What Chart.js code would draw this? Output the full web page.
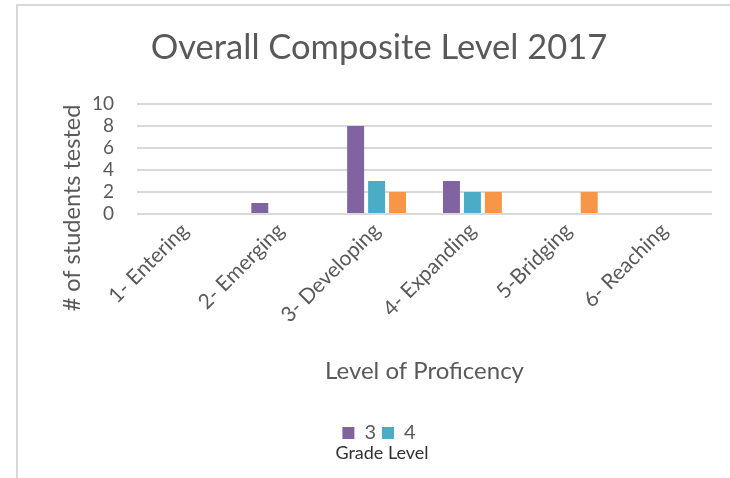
<!DOCTYPE html>
<html>
<head>
<meta charset="utf-8">
<script src="https://cdn.jsdelivr.net/npm/chart.js@4.4.1/dist/chart.umd.min.js"></script>
<style>
  html, body { margin: 0; padding: 0; background: #ffffff; }
  #wrap { position: relative; width: 730px; height: 478px; }
</style>
</head>
<body>
<div id="wrap"><canvas id="c" width="730" height="478"></canvas></div>
<script>
const categories = ["1- Entering", "2- Emerging", "3- Developing", "4- Expanding", "5-Bridging", "6- Reaching"];
const seriesNames = ["3", "4", "5"];
const grade3 = [0, 1, 8, 3, 0, 0];
const grade4 = [0, 0, 3, 2, 0, 0];
const grade5 = [0, 0, 2, 2, 2, 0];
const yTicks = [0, 2, 4, 6, 8, 10];
const yTitle = "# of students tested";
const legendTitle = "Grade Level";

const colors = ["#8064A2", "#4BACC6", "#F79646"];
const textColor = "#595959";
const FONT = "Lato, 'Open Sans', sans-serif";

const framePlugin = {
  id: 'frame',
  beforeDraw(chart) {
    const ctx = chart.ctx;
    ctx.save();
    ctx.fillStyle = '#ffffff';
    ctx.fillRect(0, 0, chart.width, chart.height);
    ctx.strokeStyle = '#d9d9d9';
    ctx.lineWidth = 2;
    ctx.beginPath();
    ctx.moveTo(17, chart.height);
    ctx.lineTo(17, 5);
    ctx.lineTo(chart.width, 5);
    ctx.stroke();
    ctx.restore();
  },
  afterDraw(chart) {
    const ctx = chart.ctx;
    const area = chart.chartArea;
    ctx.save();
    // y axis title
    ctx.fillStyle = textColor;
    ctx.font = "23.5px " + FONT;
    ctx.textAlign = 'center';
    ctx.textBaseline = 'middle';
    ctx.translate(72, area.bottom - 6);
    ctx.rotate(-Math.PI / 2);
    ctx.fillText(yTitle, 0, 0);
    ctx.restore();
    // legend title below legend items
    const lg = chart.legend;
    ctx.save();
    ctx.fillStyle = '#303030';
    ctx.font = "18px " + FONT;
    ctx.textAlign = 'center';
    ctx.textBaseline = 'middle';
    ctx.fillText(legendTitle, (lg.left + lg.right) / 2 + 3, 453);
    ctx.restore();
  }
};

const allSeries = [grade3, grade4, grade5];
new Chart(document.getElementById('c'), {
  type: 'bar',
  data: {
    labels: categories,
    datasets: allSeries.map((d, i) => ({
      label: seriesNames[i],
      data: d,
      backgroundColor: colors[i],
      borderWidth: 0,
      categoryPercentage: 0.656,
      barPercentage: 0.81
    }))
  },
  options: {
    responsive: false,
    animation: false,
    devicePixelRatio: 1,
    layout: { padding: { left: 46, right: 18, top: 20, bottom: 25 } },
    plugins: {
      title: {
        display: true,
        text: 'Overall Composite Level 2017',
        color: textColor,
        font: { family: FONT, size: 34.5, weight: 'normal' },
        padding: { top: 7, bottom: 35.6 }
      },
      legend: {
        display: true,
        position: 'bottom',
        labels: {
          color: textColor,
          font: { family: FONT, size: 20 },
          boxWidth: 12,
          boxHeight: 12,
          padding: 6,
          filter: (item) => item.datasetIndex < 2
        }
      },
      tooltip: { enabled: false }
    },
    scales: {
      x: {
        grid: { display: false, drawTicks: false },
        border: { display: false },
        ticks: {
          color: textColor,
          font: { family: FONT, size: 21 },
          minRotation: 45,
          maxRotation: 45,
          padding: 4,
          autoSkip: false
        },
        title: {
          display: true,
          text: 'Level of Proficency',
          color: textColor,
          font: { family: FONT, size: 24 },
          padding: { top: 0, bottom: 31 }
        },
        afterFit(scale) { scale.height = 203; }
      },
      y: {
        min: 0,
        max: 10,
        afterBuildTicks(scale) { scale.ticks = yTicks.map(v => ({ value: v })); },
        grid: { color: '#d9d9d9', lineWidth: 2, drawTicks: false },
        border: { display: false },
        ticks: {
          color: textColor,
          font: { family: FONT, size: 19 },
          padding: 23,
          autoSkip: false
        },
        title: { display: false },
        afterFit(scale) { scale.width = 91; }
      }
    }
  },
  plugins: [framePlugin]
});
</script>
</body>
</html>
